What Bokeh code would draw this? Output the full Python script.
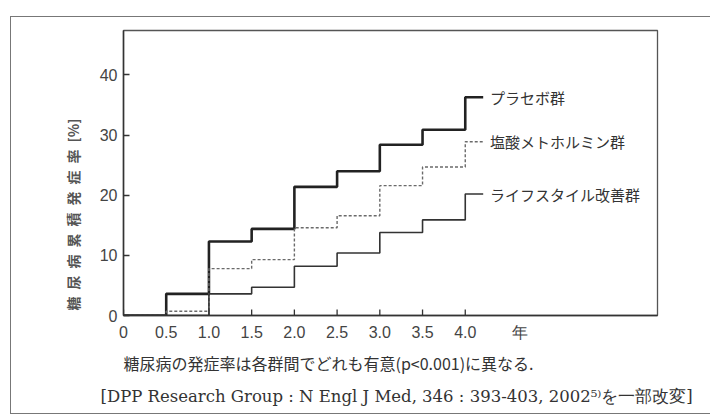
from bokeh.plotting import figure
from bokeh.layouts import column
from bokeh.models import FixedTicker, Range1d, Title
from bokeh.core.properties import value
from bokeh.embed import file_html
from bokeh.resources import INLINE

# cumulative incidence of diabetes (%) at each half-year step
years = [0, 0.5, 1.0, 1.5, 2.0, 2.5, 3.0, 3.5, 4.0]
placebo = [0, 3.6, 12.3, 14.4, 21.4, 24.0, 28.4, 30.9, 36.3]
metformin = [0, 0.7, 7.8, 9.3, 14.6, 16.6, 21.6, 24.7, 28.9]
lifestyle = [0, 0, 3.6, 4.7, 8.2, 10.4, 13.8, 15.9, 20.2]

series_names = ["プラセボ群", "塩酸メトホルミン群", "ライフスタイル改善群"]

x_ticks = [0, 0.5, 1.0, 1.5, 2.0, 2.5, 3.0, 3.5, 4.0]
x_tick_labels = ["0", "0.5", "1.0", "1.5", "2.0", "2.5", "3.0", "3.5", "4.0"]
y_ticks = [0, 10, 20, 30, 40]

y_title = "糖\u2002尿\u2002病\u2002累\u2002積\u2002発\u2002症\u2002率\u2002[%]"
x_unit = "年"
x_unit_pos = 4.64
note = "糖尿病の発症率は各群間でどれも有意(p<0.001)に異なる."
source_note = "[DPP Research Group : N Engl J Med, 346 : 393-403, 2002\u2075\u207eを一部改変]"

W, H = 699, 396                 # figure size inside the framed box
TAIL = 4.21                     # where the step lines stop, just before their labels
LABEL_X = 4.29                  # left edge of the series labels
TICK = 1.0                      # inward x tick length, in y data units

p = figure(width=W, height=H, output_backend="svg", toolbar_location=None,
           x_range=Range1d(0, 6.25), y_range=Range1d(0, 47.4),
           min_border_left=112, min_border_right=53,
           min_border_top=13, min_border_bottom=98,
           background_fill_color="white", border_fill_color="white")

p.grid.visible = False
p.outline_line_color = "#555555"
p.outline_line_width = 1.3

for ax in (p.xaxis[0], p.yaxis[0]):
    ax.axis_line_color = "#333333"
    ax.axis_line_width = 1.5
    ax.major_tick_in = 6
    ax.major_tick_out = 0
    ax.minor_tick_line_color = None
    ax.major_tick_line_color = "#333333"
    ax.major_tick_line_width = 1.3
    ax.major_label_text_font = "Liberation Sans"
    ax.major_label_text_font_size = "16px"
    ax.major_label_text_color = "#444444"

# x axis: numeric ticks plus the unit "年" written in the tick-label row
p.xaxis.ticker = FixedTicker(ticks=x_ticks + [x_unit_pos])
overrides = {t: s for t, s in zip(x_ticks, x_tick_labels)}
overrides[x_unit_pos] = x_unit
p.xaxis.major_label_overrides = overrides
p.xaxis.major_label_standoff = 8
p.xaxis.major_tick_line_color = None
p.segment(x0=x_ticks, y0=[0] * len(x_ticks), x1=x_ticks, y1=[TICK] * len(x_ticks),
          line_color="#333333", line_width=1.3)

p.yaxis.ticker = FixedTicker(ticks=y_ticks)
p.yaxis.major_label_standoff = 6


def with_tail(xs, ys):
    return xs + [TAIL], ys + [ys[-1]]


xs, ys = with_tail(years, placebo)
p.step(xs, ys, mode="after", line_color="#222222", line_width=2.6)

xs, ys = with_tail(years, metformin)
p.step(xs, ys, mode="after", line_color="#6a6a6a", line_width=1.4, line_dash="3 2")

xs, ys = with_tail(years, lifestyle)
p.step(xs, ys, mode="after", line_color="#333333", line_width=1.6)

# series names beside the ends of the lines
p.text(x=[LABEL_X] * 3, y=[placebo[-1], metformin[-1], lifestyle[-1]], text=series_names,
       text_font=value("Noto Sans CJK JP"), text_font_size="15px",
       text_color="#333333", text_align="left", text_baseline="middle")

# y-axis title, reading upward from near the bottom of the frame
p.add_layout(Title(text=y_title, align="left", offset=5, standoff=28,
                   text_font="Noto Sans CJK JP", text_font_size="14px",
                   text_font_style="bold", text_color="#555555"), "left")

# footnote and source under the chart
p.add_layout(Title(text=note, align="left", offset=0, standoff=10,
                   text_font="Noto Sans CJK JP", text_font_size="16px",
                   text_font_style="normal", text_color="#333333"), "below")
p.add_layout(Title(text=source_note, align="left", offset=-23, standoff=11,
                   text_font="DejaVu Serif", text_font_size="16.5px",
                   text_font_style="normal", text_color="#333333"), "below")

# framed box around the whole figure (open on the right)
frame_line = "1px solid #777777"
root = column(p, margin=(16, 0, 0, 10),
              styles={"border-left": frame_line, "border-top": frame_line,
                      "border-bottom": frame_line, "border-right": "0"})

open("out.html", "w").write(file_html(root, INLINE))
